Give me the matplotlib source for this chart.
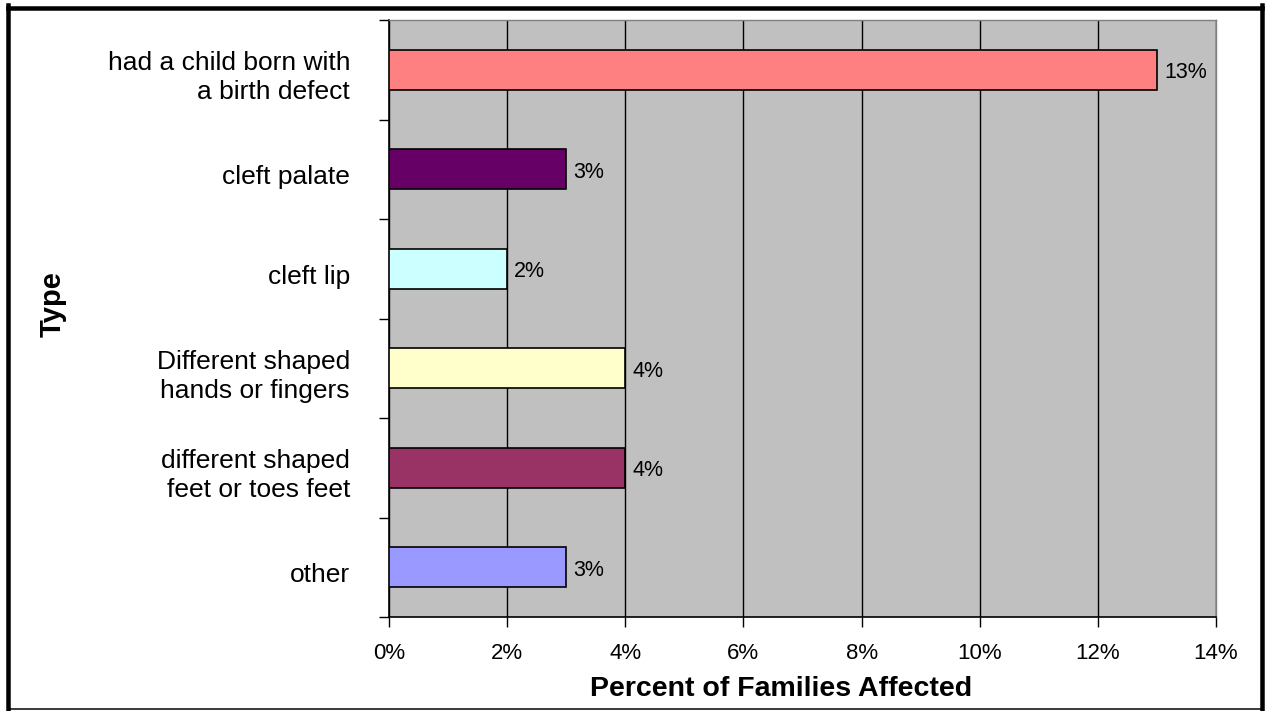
import matplotlib
matplotlib.use("Agg")
import matplotlib.pyplot as plt
from matplotlib.ticker import FuncFormatter, MultipleLocator
from matplotlib.lines import Line2D
from matplotlib.transforms import ScaledTranslation

plt.rcParams['font.family'] = ['Liberation Sans', 'DejaVu Sans']

categories = [
    "had a child born with\na birth defect",
    "cleft palate",
    "cleft lip",
    "Different shaped\nhands or fingers",
    "different shaped\nfeet or toes feet",
    "other",
]
values = [13, 3, 2, 4, 4, 3]
value_labels = ["13%", "3%", "2%", "4%", "4%", "3%"]
colors = ["#FF8080", "#660066", "#CCFFFF", "#FFFFCC", "#993366", "#9999FF"]

W, H = 1265, 711
fig = plt.figure(figsize=(W / 100, H / 100), dpi=100)


def px(x, y):
    return x / W, 1 - y / H


# outer chart frame: heavy top/left/right edges, thin bottom edge
for (x0, y0), (x1, y1), lw in [
    ((8, 7.5), (1262, 7.5), 4.5),
    ((8, 5), (8, 709), 4.5),
    ((1262, 5), (1262, 709), 4.5),
    ((8, 708.5), (1262, 708.5), 1.5),
]:
    a, b = px(x0, y0)
    c, d = px(x1, y1)
    fig.add_artist(Line2D([a, c], [b, d], transform=fig.transFigure,
                          color="black", linewidth=lw * 0.72))

left, right, top, bottom = 389, 1216, 20, 617
ax = fig.add_axes([left / W, 1 - bottom / H, (right - left) / W, (bottom - top) / H])
ax.set_facecolor("#C0C0C0")

n = len(categories)
pos = list(range(n))
ax.barh(pos, values, height=0.4, color=colors, edgecolor="black", linewidth=1.2, zorder=3)

nudge_down = ScaledTranslation(0, -3 / 100, fig.dpi_scale_trans)
for p, v, lab in zip(pos, values, value_labels):
    ax.text(v + 0.12, p, lab, va="center", ha="left", fontsize=15.5, zorder=4,
            transform=ax.transData + nudge_down)

ax.set_xlim(0, 14)
ax.set_ylim(n - 0.5, -0.5)
ax.xaxis.set_major_locator(MultipleLocator(2))
ax.xaxis.set_major_formatter(FuncFormatter(lambda x, _: f"{x:.0f}%"))
ax.grid(axis="x", color="black", linewidth=1, zorder=1)

# category names, right-aligned left of the axis
ax.set_yticks([])
cat_offset = ScaledTranslation(-39 / 100, -8 / 100, fig.dpi_scale_trans)
for p, name in zip(pos, categories):
    ax.text(0, p, name, transform=ax.get_yaxis_transform() + cat_offset,
            ha="right", va="center", multialignment="right", fontsize=19,
            linespacing=1.28)

# tick marks at category boundaries
ax.set_yticks([i - 0.5 for i in range(n + 1)], minor=True)
ax.tick_params(axis="y", which="minor", length=7, width=1)
ax.tick_params(axis="x", length=7, width=1, labelsize=16, pad=12, direction="out")

for s in ["top", "right"]:
    ax.spines[s].set_color("#808080")
    ax.spines[s].set_linewidth(1)
for s in ["left", "bottom"]:
    ax.spines[s].set_color("black")
    ax.spines[s].set_linewidth(1.2)

ax.set_xlabel("Percent of Families Affected", fontsize=20.5, fontweight="bold")
ax.xaxis.set_label_coords((781 - left) / (right - left), -(689 - bottom) / (bottom - top))
ax.xaxis.label.set_va("center")
fig.text(53 / W, 1 - 304 / H, "Type", rotation=90, fontsize=21, fontweight="bold",
         ha="center", va="center")

fig.savefig("out.png", dpi=100)
